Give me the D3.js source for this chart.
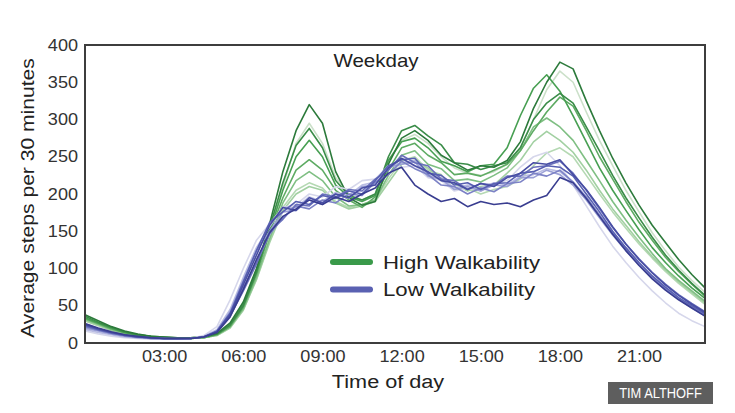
<!DOCTYPE html>
<html>
<head>
<meta charset="utf-8">
<script src="https://cdn.jsdelivr.net/npm/d3@7.9.0/dist/d3.min.js"></script>
<style>
  html, body { margin: 0; padding: 0; background: #fff; }
  svg { display: block; font-family: "Liberation Sans", Arial, sans-serif; }
</style>
</head>
<body>
<svg id="chart" width="735" height="413"></svg>
<script>
// ========== Data ==========

// half-hour bins, 00:00 .. 23:30
const hours = d3.range(48).map((i) => i / 2);
const tickHours = [3, 6, 9, 12, 15, 18, 21];
const tickLabels = ['03:00', '06:00', '09:00', '12:00', '15:00', '18:00', '21:00'];
const yTicks = [0, 50, 100, 150, 200, 250, 300, 350, 400];

// High walkability cities (light to dark)
const highG7 = [31,24,17,12,9,8,7,6,6,7,11,23, 50,95,150,210,268,295,268,222,200,192,200,245, 272,280,268,250,235,228,225,230,240,262,300,340, 365,350,310,272,238,205,176,148,124,102,84,68];
const highG8 = [30,23,17,12,9,8,7,6,6,7,10,21, 45,86,138,182,205,215,208,190,182,186,192,220, 245,250,232,226,206,208,200,206,210,220,238,255, 262,250,225,200,176,154,133,114,96,80,66,52];
const highG6 = [30,24,17,12,9,8,7,6,6,7,10,20, 44,85,135,178,200,210,205,188,180,184,190,215, 240,245,235,218,214,204,210,212,228,245,270,284, 272,256,232,205,180,158,136,116,98,82,68,54];
const highG5 = [32,25,18,13,10,8,7,6,6,7,11,22, 46,88,140,188,218,230,218,196,184,186,192,225, 252,258,240,234,218,220,216,225,235,258,290,302, 290,272,245,218,190,165,142,120,100,84,70,56];
const highG4 = [33,26,19,14,10,8,7,6,6,7,11,22, 48,92,148,195,232,246,232,205,192,182,196,232, 262,268,252,242,226,228,224,232,240,258,285,310, 330,318,285,250,220,190,162,138,115,96,79,63];
const highG3 = [34,27,20,14,11,9,7,7,7,8,12,25, 52,98,150,205,250,272,250,212,196,190,198,245, 270,275,262,244,238,230,238,240,262,305,342,360, 338,305,270,235,205,178,152,128,108,90,74,60];
const highG2 = [36,28,21,15,11,9,8,7,7,8,12,24, 50,95,155,215,265,288,262,218,198,192,200,250, 285,292,278,266,242,240,233,238,242,262,300,322, 335,322,290,258,225,195,168,142,118,98,80,64];
const highG1 = [38,30,22,16,12,9,8,7,7,8,13,27, 55,100,160,230,285,320,295,230,195,185,190,240, 275,285,272,252,242,232,238,236,245,270,315,350, 377,368,325,285,248,215,185,158,135,112,92,74];

// Low walkability cities (light to dark)
const lowB7 = [16,12,9,7,6,5,5,5,6,10,22,58, 100,138,160,182,186,200,196,210,206,218,220,238, 236,238,222,218,204,208,204,214,218,236,250,256, 238,212,184,156,130,108,88,70,54,40,30,22];
const lowB6 = [18,14,11,8,7,6,5,5,6,9,18,45, 88,128,156,182,182,196,190,202,198,212,216,238, 242,245,226,222,208,212,208,215,212,224,226,234, 230,216,194,170,147,125,106,89,73,60,49,39];
const lowB5 = [20,16,12,9,7,6,5,5,6,8,16,42, 84,124,150,176,178,192,186,200,194,210,212,236, 240,243,224,220,206,210,204,212,210,222,222,232, 226,212,192,168,145,124,105,88,72,59,47,36];
const lowB4 = [22,17,13,10,8,6,6,5,6,8,15,38, 74,108,146,168,184,180,192,188,200,198,216,226, 244,234,226,212,210,200,208,203,214,216,228,224, 232,216,196,172,148,127,107,89,73,59,48,37];
const lowB8 = [23,18,13,10,8,7,6,6,6,8,15,36, 70,106,150,166,186,184,200,196,206,204,220,232, 252,242,238,220,218,206,214,212,224,224,236,238, 244,228,205,180,155,133,113,95,79,65,53,42];
const lowB3 = [24,18,14,10,8,7,6,6,6,8,16,40, 82,124,162,176,190,186,198,194,204,200,218,238, 246,248,228,225,212,215,206,214,215,228,230,238, 236,224,200,176,150,128,108,90,75,61,50,39];
const lowB2 = [25,19,14,11,8,7,6,6,6,8,15,38, 78,118,158,182,178,195,188,200,195,208,212,235, 248,238,230,218,215,206,214,210,222,228,242,240, 246,226,206,182,156,133,112,94,78,64,52,41];
const lowB1 = [26,20,15,11,9,7,6,6,6,8,14,35, 72,112,148,170,180,192,186,196,190,200,208,228, 236,212,200,190,194,183,190,186,188,183,192,198, 222,215,194,170,146,124,104,86,71,58,47,36];

const highSeries = [highG7, highG8, highG6, highG5, highG4, highG3, highG2, highG1];
const highColors = ['#cbe0c9', '#b5d9b3', '#a2d0a2', '#7fbf83', '#5eab63', '#479f52', '#3a8c48', '#2c7a3b'];
const lowSeries = [lowB7, lowB6, lowB5, lowB4, lowB8, lowB3, lowB2, lowB1];
const lowColors = ['#d6d7eb', '#b9bce3', '#9ba0d6', '#7c82c6', '#6a70bc', '#5860b2', '#474da3', '#393d90'];

const legendItems = [
  { label: 'High Walkability', color: '#3a9a4a' },
  { label: 'Low Walkability', color: '#5a61b2' }
];

// ========== Layout ==========

const svg = d3.select('#chart');
const margin = { left: 85, right: 30, top: 45, bottom: 70 };
const width = 735, height = 413;

const x = d3.scaleLinear().domain([0, 23.5]).range([margin.left, width - margin.right]);
const y = d3.scaleLinear().domain([0, 400]).range([height - margin.bottom, margin.top]);

const line = d3.line()
  .x((d, i) => x(hours[i]))
  .y((d) => y(d));

// source font is a bit wider than Liberation Sans, so stretch text horizontally
function addText(parent, tx, ty, str, size, k, anchor, rot) {
  return parent.append('text')
    .attr('transform', `translate(${tx},${ty})${rot ? ` rotate(${rot})` : ''} scale(${k},1)`)
    .attr('text-anchor', anchor)
    .attr('font-size', size)
    .attr('fill', '#222')
    .text(str);
}

// ========== Lines ==========

const plot = svg.append('g');

highSeries.forEach((s, i) => {
  plot.append('path')
    .attr('d', line(s))
    .attr('fill', 'none')
    .attr('stroke', highColors[i])
    .attr('stroke-width', 1.6)
    .attr('stroke-linejoin', 'round');
});

lowSeries.forEach((s, i) => {
  plot.append('path')
    .attr('d', line(s))
    .attr('fill', 'none')
    .attr('stroke', lowColors[i])
    .attr('stroke-width', 1.6)
    .attr('stroke-linejoin', 'round');
});

// ========== Frame + axes ==========

svg.append('rect')
  .attr('x', x(0))
  .attr('y', y(400))
  .attr('width', x(23.5) - x(0))
  .attr('height', y(0) - y(400))
  .attr('fill', 'none')
  .attr('stroke', '#3d3d3d')
  .attr('stroke-width', 2);

const tickK = 1.13;

const yAxis = svg.append('g')
  .attr('transform', `translate(${x(0)},0)`)
  .call(d3.axisLeft(y).tickValues(yTicks).tickSize(0).tickPadding(7));
yAxis.select('.domain').remove();
yAxis.selectAll('text')
  .attr('font-size', 16)
  .attr('fill', '#333')
  .attr('font-family', '"Liberation Sans", Arial, sans-serif')
  .attr('x', -7 / tickK)
  .attr('transform', `scale(${tickK},1)`);

const xAxis = svg.append('g')
  .attr('transform', `translate(0,${y(0)})`)
  .call(d3.axisBottom(x).tickValues(tickHours).tickFormat((d, i) => tickLabels[i]).tickSize(0).tickPadding(8));
xAxis.select('.domain').remove();
xAxis.selectAll('text')
  .attr('font-size', 16)
  .attr('fill', '#333')
  .attr('font-family', '"Liberation Sans", Arial, sans-serif')
  .attr('transform', `scale(${tickK},1)`);

// axis titles
addText(svg, 388, 388, 'Time of day', 19, 1.14, 'middle');
addText(svg, 34, 198, 'Average steps per 30 minutes', 19, 1.11, 'middle', -90);
addText(svg, 376, 67, 'Weekday', 18, 1.14, 'middle');

// ========== Legend ==========

const legend = svg.append('g');
legendItems.forEach((d, i) => {
  const ly = 262 + i * 27.5;
  legend.append('line')
    .attr('x1', 333).attr('x2', 370)
    .attr('y1', ly).attr('y2', ly)
    .attr('stroke', d.color)
    .attr('stroke-width', 6)
    .attr('stroke-linecap', 'round');
  addText(legend, 383, ly + 6.5, d.label, 18.5, 1.2, 'start');
});

// ========== Credit ==========

svg.append('rect')
  .attr('x', 608).attr('y', 382)
  .attr('width', 105).attr('height', 22)
  .attr('fill', '#5e5e5e');
addText(svg, 660.5, 398, 'TIM ALTHOFF', 14, 0.92, 'middle')
  .attr('fill', '#fff');
</script>
</body>
</html>
